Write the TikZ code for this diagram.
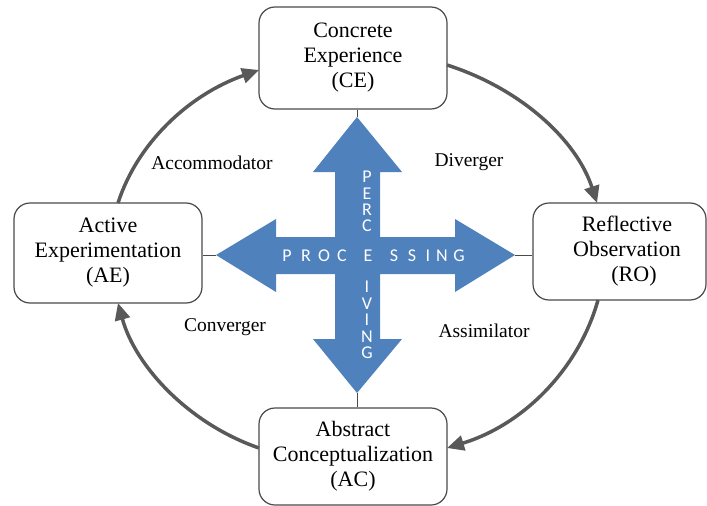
\documentclass[tikz,border=0pt]{standalone}
\usepackage{fontspec}
\setmainfont{Liberation Serif}
\newfontfamily\crossfont{Carlito}
\usetikzlibrary{arrows.meta}
\definecolor{crossblue}{HTML}{4F81BD}
\definecolor{cyclegray}{HTML}{595959}
\definecolor{boxline}{HTML}{4A4A4A}
\tikzset{
  stagebox/.style={draw=boxline, line width=1.2pt, rounded corners=16pt, fill=white,
    align=center, inner sep=0pt, font=\fontsize{22}{25}\selectfont},
  boxtext/.style={align=center, inner sep=0pt, font=\fontsize{22}{25}\selectfont},
  stylelbl/.style={inner sep=0pt, font=\fontsize{19.5}{22}\selectfont},
  cyclearrow/.style={draw=cyclegray, line width=3.5pt,
    -{Triangle[length=17pt,width=15pt]}},
  linkline/.style={draw=boxline, line width=1pt},
  crossletter/.style={text=white, inner sep=0pt, text height=11.5pt, text depth=0pt,
    font=\crossfont\fontsize{18}{18}\selectfont},
  crosscolumn/.style={text=white, inner sep=0pt, align=center,
    font=\crossfont\fontsize{18}{16.4}\selectfont}
}
\begin{document}
\begin{tikzpicture}[x=1pt,y=-1pt]
\useasboundingbox (0,0) rectangle (707,506);

% stage boxes
\node[stagebox, minimum width=188pt, minimum height=102pt] (ce) at (353,58)
  {Concrete\\Experience\\(CE)};
\node[stagebox, minimum width=188pt, minimum height=100pt] (ae) at (108,253)
  {Active\\Experimentation\\(AE)};
\node[stagebox, minimum width=173pt, minimum height=97pt] (ro) at (619.5,251.5) {};
\node[boxtext] (rotext) at (627,251) {Reflective\\Observation\\\hspace*{14pt}(RO)};
\node[stagebox, minimum width=188pt, minimum height=97pt] (ac) at (353,456.5)
  {Abstract\\Conceptualization\\(AC)};

% cross arrow
\fill[crossblue] (357,117) -- (402,172) -- (380,172) -- (380,237) -- (455,237)
  -- (455,219) -- (515,255) -- (455,292) -- (455,274) -- (380,274) -- (380,339)
  -- (402,339) -- (357,393) -- (313,339) -- (335,339) -- (335,274) -- (276,274)
  -- (276,292) -- (216,255) -- (276,219) -- (276,237) -- (335,237) -- (335,172)
  -- (313,172) -- cycle;
\coordinate (tipT) at (357,117);
\coordinate (tipB) at (357,393);
\coordinate (tipL) at (216,255);
\coordinate (tipR) at (515,255);

% thin links between boxes and cross
\draw[linkline] (ce.south -| tipT) -- (tipT);
\draw[linkline] (tipB) -- (ac.north -| tipB);
\draw[linkline] (ae.east |- tipL) -- (tipL);
\draw[linkline] (tipR) -- (ro.west |- tipR);

% letters on cross
\foreach \ch/\xx [count=\i] in {P/287,R/306,O/324,C/342,E/368,S/394,S/412,I/428,N/442,G/459}
  \node[crossletter] (h\i) at (\xx,255.5) {\ch};
\node[crosscolumn] (perc) at (367,201.5) {P\\E\\R\\C};
\node[crosscolumn] (iving) at (367,320) {I\\V\\I\\N\\G};

% cycle arrows
\coordinate (aeTop) at (118,203);
\coordinate (ceLeft) at (259,70);
\coordinate (ceRight) at (447,65);
\coordinate (roTop) at (597,203);
\coordinate (roBot) at (598,300);
\coordinate (acRight) at (447,448);
\coordinate (acLeft) at (259,448);
\coordinate (aeBot) at (118,303);
\draw[cyclearrow] (aeTop) .. controls (137.3,143.1) and (188.7,94.8) .. (ceLeft);
\draw[cyclearrow] (ceRight) .. controls (521,88.6) and (576.7,140.2) .. (roTop);
\draw[cyclearrow] (roBot) .. controls (579.4,366.9) and (525.5,424) .. (acRight);
\draw[cyclearrow] (acLeft) .. controls (189.5,424) and (135.6,366.9) .. (aeBot);

% learning style labels
\node[stylelbl] (acc) at (212,163) {Accommodator};
\node[stylelbl] (div) at (469,162) {Diverger};
\node[stylelbl] (con) at (225,327) {Converger};
\node[stylelbl] (ass) at (484,331) {Assimilator};
\end{tikzpicture}
\end{document}
